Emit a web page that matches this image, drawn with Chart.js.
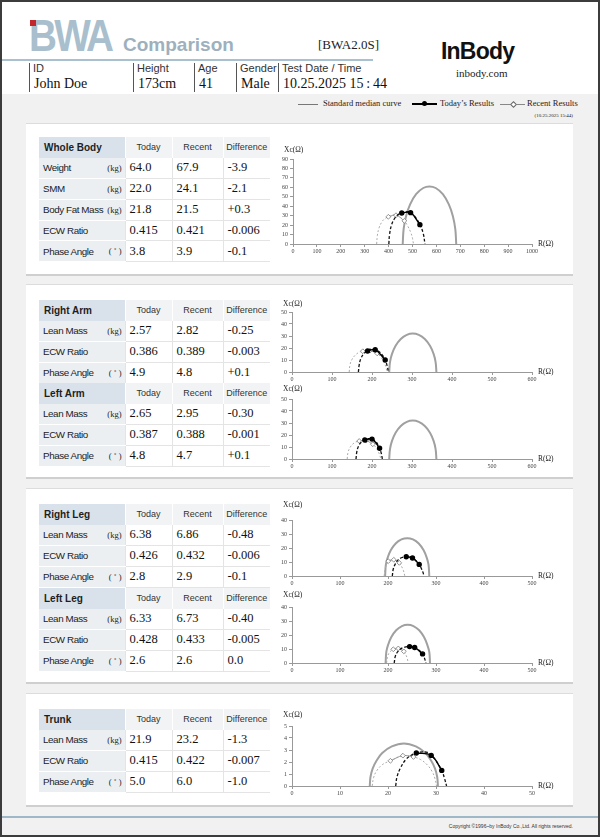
<!DOCTYPE html>
<html>
<head>
<meta charset="utf-8">
<script src="https://cdn.jsdelivr.net/npm/chart.js@4.4.1/dist/chart.umd.min.js"></script>
<style>
body{margin:0;background:#fff;}
#page{position:relative;width:600px;height:837px;overflow:hidden;background:#f1f1f1;font-family:"Liberation Sans",Arial,sans-serif;color:#222;}
#frame{position:absolute;left:0;top:0;width:600px;height:837px;box-sizing:border-box;border:2px solid #3c3c3c;pointer-events:none;z-index:10;}
.t{position:absolute;white-space:nowrap;}
.serif{font-family:"Liberation Serif","Times New Roman",serif;}
.panel{position:absolute;left:26px;width:547px;background:#fff;border-top:1px solid #dcdcdc;border-bottom:2px solid #cfcfcf;box-sizing:border-box;}
.vsep{position:absolute;top:63px;width:1px;height:29px;background:#555;}
.tb{position:absolute;left:39px;width:231px;border-collapse:collapse;table-layout:fixed;}
.tb th,.tb td{height:20.8px;padding:0;box-sizing:border-box;white-space:nowrap;overflow:hidden;}
.tb th{background:#f2f3f4;font-weight:normal;font-size:9px;color:#333;text-align:center;border-left:1px solid #fff;}
.tb th.h{background:#d9e2ea;font-weight:bold;font-size:10px;color:#1e1e1e;text-align:left;padding-left:5px;border-left:none;}
.tb td.l{position:relative;background:#eceff2;font-size:9.8px;letter-spacing:-0.4px;color:#222;padding-left:4px;border-bottom:1px solid #fff;}
.tb td.l span{position:absolute;right:3px;top:5px;font-family:"Liberation Serif",serif;font-size:8.5px;letter-spacing:0;}
.tb td.v{background:#fff;font-family:"Liberation Serif",serif;font-size:12.5px;color:#111;padding-left:4px;border-bottom:1px solid #e4e4e4;border-left:1px solid #e4e4e4;}
.ax{position:absolute;font-family:"Liberation Serif",serif;font-size:7.5px;color:#222;white-space:nowrap;line-height:8px;}
canvas{position:absolute;}
</style>
</head>
<body>
<div id="page">
  <div style="position:absolute;left:0;top:0;width:600px;height:94px;background:#fff;"></div>
  <div class="t" style="left:29px;top:14px;font-size:44px;line-height:44px;font-weight:bold;color:#a9bfcd;letter-spacing:-3px;transform:scaleX(0.88);transform-origin:0 0;">BWA</div>
  <div style="position:absolute;left:30px;top:20px;width:6px;height:6px;background:#c1272d;"></div>
  <div class="t" style="left:123px;top:35px;font-size:19px;line-height:19px;font-weight:bold;color:#9eb0be;">Comparison</div>
  <div class="t serif" style="left:318px;top:38px;font-size:13px;line-height:13px;color:#222;">[BWA2.0S]</div>
  <div style="position:absolute;left:0;top:59px;width:373px;height:2px;background:#a9c0cf;"></div>
  <div class="t" style="left:441px;top:40px;font-size:23px;line-height:23px;font-weight:bold;color:#111;letter-spacing:-0.8px;">InBody</div>
  <div class="t serif" style="left:456px;top:68px;font-size:11px;line-height:11px;color:#222;">inbody.com</div>

  <div class="vsep" style="left:29px;"></div>
  <div class="vsep" style="left:133px;"></div>
  <div class="vsep" style="left:194px;"></div>
  <div class="vsep" style="left:236px;"></div>
  <div class="vsep" style="left:278px;"></div>

  <div style="position:absolute;left:298px;top:104px;width:20px;height:1px;background:#777;"></div>
  <div class="t serif" style="left:323px;top:99px;font-size:8.5px;line-height:9px;">Standard median curve</div>
  <div style="position:absolute;left:412px;top:103px;width:25px;height:1.5px;background:#000;"></div>
  <div style="position:absolute;left:422px;top:101px;width:5px;height:5px;border-radius:50%;background:#000;"></div>
  <div class="t serif" style="left:440px;top:99px;font-size:8.5px;line-height:9px;">Today’s Results</div>
  <div style="position:absolute;left:500px;top:104px;width:25px;height:1px;background:#888;"></div>
  <div style="position:absolute;left:511px;top:102px;width:3px;height:3px;transform:rotate(45deg);background:#fff;border:1px solid #666;"></div>
  <div class="t serif" style="left:527px;top:99px;font-size:8.5px;line-height:9px;">Recent Results</div>
  <div class="t serif" style="right:27px;top:113px;font-size:5px;line-height:6px;">(10.25.2025 15:44)</div>

  <div class="panel" style="top:123px;height:153px;"></div>
  <div class="panel" style="top:284px;height:195px;"></div>
  <div class="panel" style="top:488px;height:196px;"></div>
  <div class="panel" style="top:693px;height:114px;"></div>

  <div style="position:absolute;left:0;top:816px;width:600px;height:2px;background:#9fb8c8;"></div>
  <div class="t" style="right:27px;top:823px;font-size:5px;line-height:6px;color:#333;">Copyright ©1996~by InBody Co.,Ltd. All rights reserved.</div>
  <div id="frame"></div>
</div>
<script>
// patient info
const infoLabels = ['ID', 'Height', 'Age', 'Gender', 'Test Date / Time'];
const infoValues = ['John Doe', '173cm', '41', 'Male', '10.25.2025 15\u2009:\u200944'];
const infoX = [33, 137, 198, 240, 282];

// tables
const wbLabels = ['Weight', 'SMM', 'Body Fat Mass', 'ECW Ratio', 'Phase Angle'];
const wbUnits = ['(kg)', '(kg)', '(kg)', '', '( ˚ )'];
const wbTodayVals = ['64.0', '22.0', '21.8', '0.415', '3.8'];
const wbRecentVals = ['67.9', '24.1', '21.5', '0.421', '3.9'];
const wbDiffVals = ['-3.9', '-2.1', '+0.3', '-0.006', '-0.1'];

const segLabels = ['Lean Mass', 'ECW Ratio', 'Phase Angle'];
const segUnits = ['(kg)', '', '( ˚ )'];
const raTodayVals = ['2.57', '0.386', '4.9'];
const raRecentVals = ['2.82', '0.389', '4.8'];
const raDiffVals = ['-0.25', '-0.003', '+0.1'];
const laTodayVals = ['2.65', '0.387', '4.8'];
const laRecentVals = ['2.95', '0.388', '4.7'];
const laDiffVals = ['-0.30', '-0.001', '+0.1'];
const rlTodayVals = ['6.38', '0.426', '2.8'];
const rlRecentVals = ['6.86', '0.432', '2.9'];
const rlDiffVals = ['-0.48', '-0.006', '-0.1'];
const llTodayVals = ['6.33', '0.428', '2.6'];
const llRecentVals = ['6.73', '0.433', '2.6'];
const llDiffVals = ['-0.40', '-0.005', '0.0'];
const trTodayVals = ['21.9', '0.415', '5.0'];
const trRecentVals = ['23.2', '0.422', '6.0'];
const trDiffVals = ['-1.3', '-0.007', '-1.0'];

// Cole-Cole plots: [R, Xc]
const wbStd = [[459,0],[463,16],[473,29.5],[490,42],[515,52.8],[545,59.3],[571,61],[597,59.3],[627,52.8],[652,42],[669,29.5],[679,16],[683,0]];
const wbToday = [[401,0],[404,10],[412,20],[425,27],[442,31.5],[455,32.8],[476,34],[492,33.2],[510,29],[531,20.5],[545,11],[552,0]];
const wbTodayPts = [[455,32.8],[492,33.2],[531,20.5]];
const wbRecent = [[350,0],[353,9],[360,17],[372,23.5],[385,27],[399,28.8],[415,30.5],[431,30.5],[450,28],[466,24.5],[480,19],[493,12],[500,6],[504,0]];
const wbRecentPts = [[399,28.8],[431,30.5],[466,24.5]];

const raStd = [[243,0],[245,8.3],[250,15.1],[259,21.9],[272,27.5],[287,30.9],[302,32],[317,30.9],[332,27.5],[345,21.9],[354,15.1],[359,8.3],[361,0]];
const raToday = [[166,0],[168,6],[172,11],[180,15.5],[189,17.5],[198,18.8],[208,18.6],[218,16.8],[226,14],[233,10],[238,5],[241,0]];
const raTodayPts = [[189,17.5],[208,18.6],[233,10]];
const raRecent = [[143,0],[145,6],[150,10.5],[158,14],[167,16.3],[177,17.3],[190,18],[202,17.3],[213,15.5],[222,12.5],[230,8],[235,4],[237,0]];
const raRecentPts = [[177,17.3],[195,17.8],[213,15.5]];

const laStd = [[243,0],[245,8.3],[250,15.1],[259,21.9],[272,27.5],[287,30.9],[302,32],[317,30.9],[332,27.5],[345,21.9],[354,15.1],[359,8.3],[361,0]];
const laToday = [[160,0],[162,6],[166,10.5],[173,14],[182,15.8],[191,17],[200,16.6],[208,15],[214,12.5],[219,9],[223,5],[226,0]];
const laTodayPts = [[182,15.8],[200,16.6],[219,9]];
const laRecent = [[138,0],[140,5.5],[145,9.5],[152,12.5],[160,14.3],[168,15],[180,15.5],[191,14.6],[202,12.3],[210,9.5],[216,6],[220,2.5],[222,0]];
const laRecentPts = [[168,15],[185,15.3],[202,12.3]];

const rlStd = [[194,0],[195.5,7.9],[199,12.8],[206,18.5],[216,23.2],[228,26.1],[240,27],[252,26.1],[264,23.2],[274,18.5],[281,12.8],[284.5,7.9],[286,0]];
const rlToday = [[209,0],[211,5],[215,8.5],[221,11.5],[229,13.2],[238,13.8],[245,13.7],[251,12.9],[258,11],[265,8.3],[270,5],[273,2.5],[275,0]];
const rlTodayPts = [[238,13.8],[251,12.9],[265,8.3]];
const rlRecent = [[192,0],[194,5],[197,8.5],[200.5,10.6],[206,11.6],[212,11.6],[218,10.8],[223.5,9.4],[228,7],[232,4],[235,0]];
const rlRecentPts = [[200.5,10.6],[212,11.6],[223.5,9.4]];

const llStd = [[195,0],[196.5,7.9],[200,12.8],[207,18.5],[217,23.4],[229,26.4],[241,27.3],[253,26.4],[265,23.4],[275,18.5],[282,12.8],[286,7.9],[287.5,0]];
const llToday = [[213,0],[215,4.5],[219,7.5],[226,10],[235,11.3],[245,11.7],[255.6,11.1],[264,9.3],[272,6.5],[276,3.5],[279,0]];
const llTodayPts = [[245,11.7],[255.6,11.1],[272,6.5]];
const llRecent = [[197,0],[199,4.5],[203,7.5],[211,9.8],[221.5,10.4],[228,9.7],[233,8.3],[237,6],[240,3.5],[242,0]];
const llRecentPts = [[211,9.8],[221.5,10.4],[233,8.3]];

const trStd = [[16.2,0],[16.35,0.75],[16.8,1.45],[17.6,2.1],[18.8,2.75],[20.8,3.3],[23.3,3.55],[25.8,3.3],[27.8,2.75],[29.0,2.1],[29.8,1.45],[30.25,0.75],[30.4,0]];
const trToday = [[21.6,0],[21.9,0.8],[22.6,1.5],[23.7,2.2],[25.0,2.6],[25.9,2.75],[27.2,2.85],[28.2,2.8],[29.0,2.55],[30.0,2.1],[31.2,1.3],[31.8,0.6],[32.2,0]];
const trTodayPts = [[25.9,2.75],[29.0,2.55],[31.2,1.3]];
const trRecent = [[16.7,0],[17.0,0.7],[17.7,1.3],[18.9,1.8],[20.5,2.1],[23.1,2.53],[25.3,2.42],[26.8,2.2],[28.2,1.75],[29.2,1.2],[29.8,0.6],[30.1,0]];
const trRecentPts = [[20.5,2.1],[23.1,2.53],[25.3,2.42]];

// axis ranges [min, max, step]
const wbX = [0, 1000, 100], wbY = [0, 90, 10];
const armX = [0, 600, 100], armY = [0, 50, 10];
const legX = [0, 500, 100], legY = [0, 40, 10];
const trX = [0, 50, 10], trY = [0, 5, 1];

const page = document.getElementById('page');

function text(str, x, y, css) {
  var d = document.createElement('div');
  d.className = 't';
  d.textContent = str;
  d.style.cssText += 'left:' + x + 'px;top:' + y + 'px;' + (css || '');
  page.appendChild(d);
  return d;
}

infoLabels.forEach(function(l, i) {
  text(l, infoX[i], 62, 'font-size:11px;line-height:12px;color:#333;');
  text(infoValues[i], infoX[i] + 1, 77, 'font-size:14px;line-height:14px;color:#111;font-family:"Liberation Serif",serif;');
});

function table(title, top, labels, units, tdy, rec, diff) {
  var t = document.createElement('table');
  t.className = 'tb';
  t.style.top = top + 'px';
  var html = '<colgroup><col style="width:86px"><col style="width:47px"><col style="width:51px"><col style="width:47px"></colgroup>';
  html += '<tr><th class="h">' + title + '</th><th>Today</th><th>Recent</th><th>Difference</th></tr>';
  for (var i = 0; i < labels.length; i++) {
    html += '<tr><td class="l">' + labels[i] + (units[i] ? '<span>' + units[i] + '</span>' : '') + '</td>' +
      '<td class="v">' + tdy[i] + '</td><td class="v">' + rec[i] + '</td><td class="v">' + diff[i] + '</td></tr>';
  }
  t.innerHTML = html;
  page.appendChild(t);
}

table('Whole Body', 137, wbLabels, wbUnits, wbTodayVals, wbRecentVals, wbDiffVals);
table('Right Arm', 300, segLabels, segUnits, raTodayVals, raRecentVals, raDiffVals);
table('Left Arm', 383, segLabels, segUnits, laTodayVals, laRecentVals, laDiffVals);
table('Right Leg', 504, segLabels, segUnits, rlTodayVals, rlRecentVals, rlDiffVals);
table('Left Leg', 588, segLabels, segUnits, llTodayVals, llRecentVals, llDiffVals);
table('Trunk', 709, segLabels, segUnits, trTodayVals, trRecentVals, trDiffVals);

function xy(arr) {
  return arr.map(function(p) { return {x: p[0], y: p[1]}; });
}

function plot(x0, x1, yTop, yBot, xcY, xr, yr, std, tdy, tdyPts, rec, recPts) {
  var padL = 16, padT = 8, padR = 16, padB = 12;
  var cv = document.createElement('canvas');
  cv.width = x1 - x0 + padL + padR;
  cv.height = yBot - yTop + padT + padB;
  cv.style.left = (x0 - padL) + 'px';
  cv.style.top = (yTop - padT) + 'px';
  page.appendChild(cv);

  var tickFont = {family: 'Liberation Serif', size: 6};
  new Chart(cv, {
    type: 'scatter',
    data: {
      datasets: [
        {data: xy(tdyPts), showLine: true, borderColor: '#000', borderWidth: 1.4, pointRadius: 2,
          pointBackgroundColor: '#000', pointBorderColor: '#000', tension: 0.4},
        {data: xy(tdy), showLine: true, borderColor: '#111', borderWidth: 1.3, borderDash: [3, 2],
          pointRadius: 0, tension: 0.4},
        {data: xy(recPts), showLine: true, borderColor: '#999', borderWidth: 1, pointStyle: 'rectRot',
          pointRadius: 2.4, pointBackgroundColor: '#fff', pointBorderColor: '#777', pointBorderWidth: 0.8, tension: 0.4},
        {data: xy(rec), showLine: true, borderColor: '#aaa', borderWidth: 1, borderDash: [2, 2],
          pointRadius: 0, tension: 0.4},
        {data: xy(std), showLine: true, borderColor: '#a0a0a0', borderWidth: 2, pointRadius: 0, tension: 0.4}
      ]
    },
    options: {
      responsive: false,
      animation: false,
      devicePixelRatio: 1,
      layout: {padding: {top: padT, right: padR, left: 0, bottom: 0}},
      plugins: {legend: {display: false}, tooltip: {enabled: false}},
      scales: {
        x: {
          type: 'linear', min: xr[0], max: xr[1],
          ticks: {stepSize: xr[2], font: tickFont, color: '#444', padding: 1, maxRotation: 0, autoSkip: false,
            callback: function(v) { return String(v); }},
          grid: {drawOnChartArea: false, tickLength: 3, color: '#999'},
          border: {color: '#999'},
          afterFit: function(s) { s.height = padB; }
        },
        y: {
          type: 'linear', min: yr[0], max: yr[1],
          ticks: {stepSize: yr[2], font: tickFont, color: '#444', padding: 2, autoSkip: false,
            callback: function(v) { return String(v); }},
          grid: {drawOnChartArea: false, tickLength: 3, color: '#999'},
          border: {color: '#999'},
          afterFit: function(s) { s.width = padL; }
        }
      }
    }
  });

  var a = document.createElement('div');
  a.className = 'ax';
  a.textContent = 'Xc(Ω)';
  a.style.left = (x0 - 9) + 'px';
  a.style.top = (xcY - 4) + 'px';
  page.appendChild(a);
  var b = document.createElement('div');
  b.className = 'ax';
  b.textContent = 'R(Ω)';
  b.style.left = (x1 + 6) + 'px';
  b.style.top = (yBot - 4) + 'px';
  page.appendChild(b);
}

plot(293, 532, 159, 244, 150, wbX, wbY, wbStd, wbToday, wbTodayPts, wbRecent, wbRecentPts);
plot(292, 532, 312, 372, 304, armX, armY, raStd, raToday, raTodayPts, raRecent, raRecentPts);
plot(292, 532, 399, 459, 389, armX, armY, laStd, laToday, laTodayPts, laRecent, laRecentPts);
plot(292, 532, 520, 576, 505, legX, legY, rlStd, rlToday, rlTodayPts, rlRecent, rlRecentPts);
plot(292, 532, 607, 663, 595, legX, legY, llStd, llToday, llTodayPts, llRecent, llRecentPts);
plot(292, 532, 726, 786, 715, trX, trY, trStd, trToday, trTodayPts, trRecent, trRecentPts);
</script>
</body>
</html>
